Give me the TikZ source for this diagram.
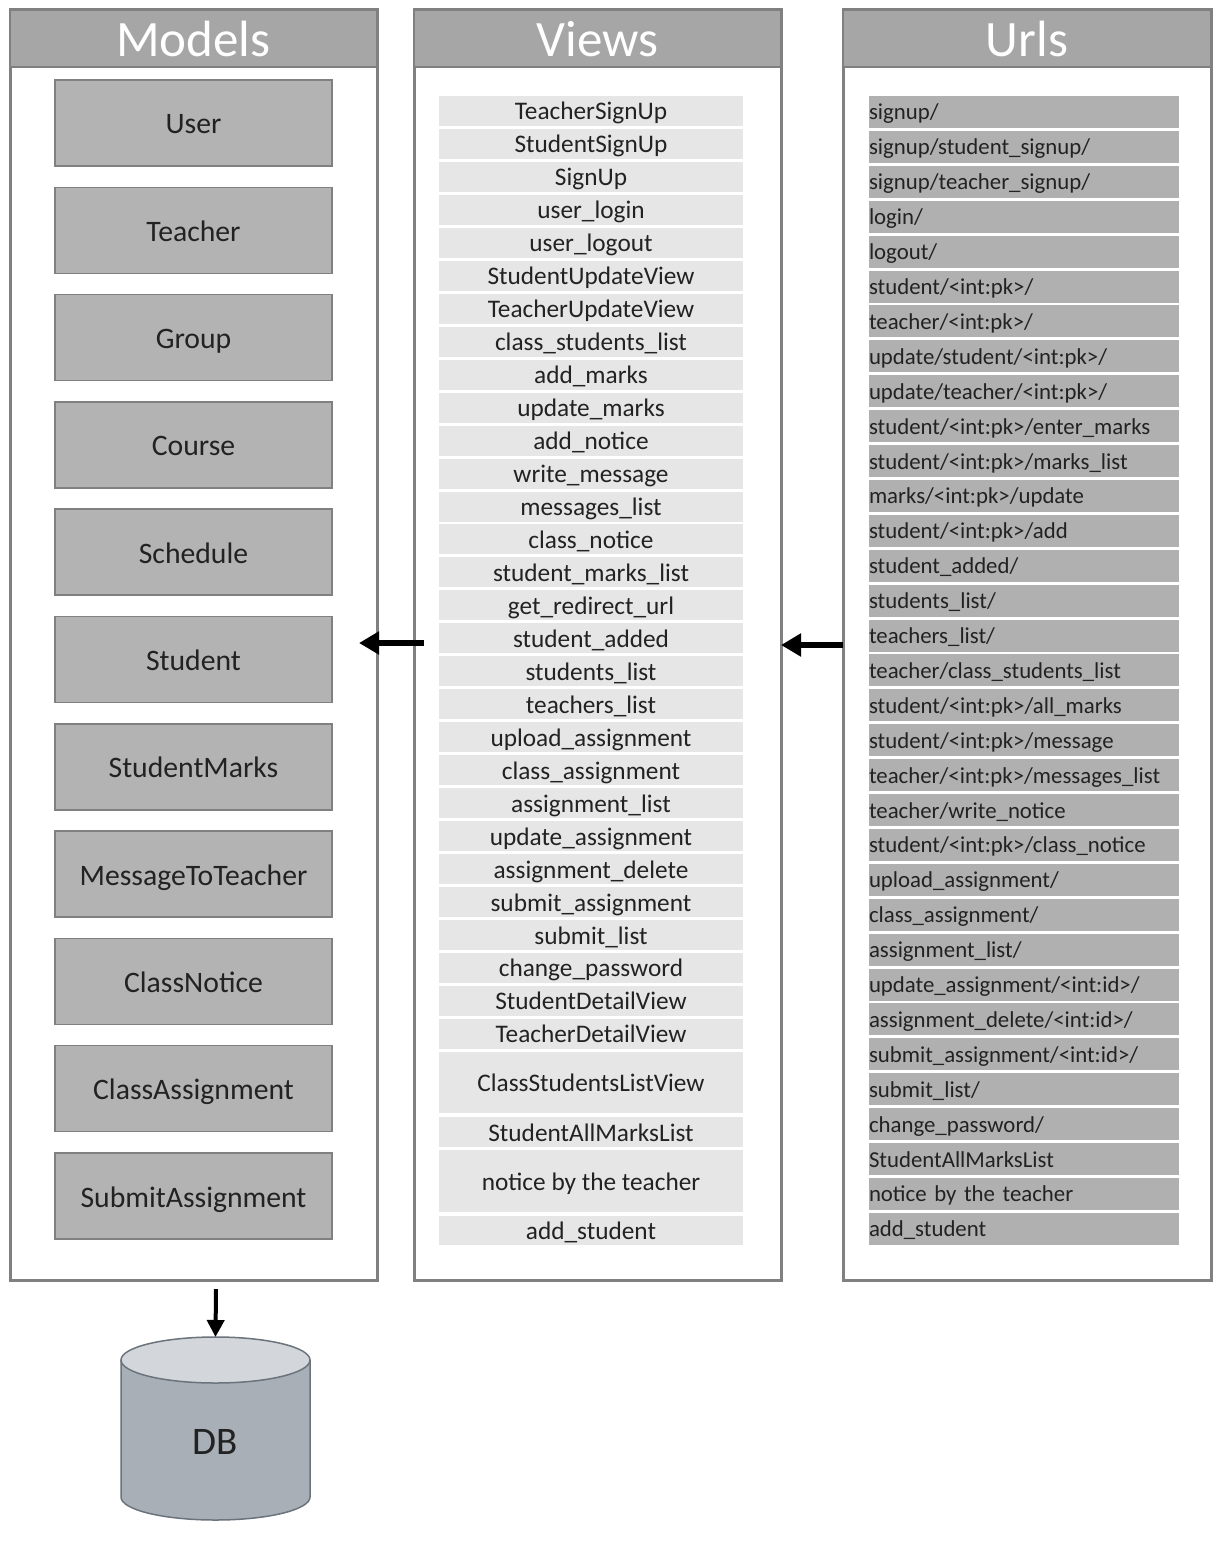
\documentclass[tikz,border=0pt]{standalone}
\usepackage{fontspec}
\setmainfont{Carlito}
\usetikzlibrary{arrows.meta}
\definecolor{hdr}{HTML}{A6A6A6}
\definecolor{frm}{HTML}{808080}
\definecolor{mbox}{HTML}{B3B3B3}
\definecolor{vrow}{HTML}{E6E6E6}
\definecolor{urow}{HTML}{B0B0B0}
\definecolor{txt}{HTML}{222222}
\definecolor{dbside}{HTML}{A8AFB7}
\definecolor{dbtop}{HTML}{D3D7DB}
\definecolor{dbline}{HTML}{6B737C}
\begin{document}
\begin{tikzpicture}[x=1pt,y=-1pt,
  panel/.style={draw=frm,line width=3pt,fill=white},
  header/.style={draw=frm,line width=2pt,fill=hdr},
  htext/.style={text height=37pt,text depth=0pt,text=white,font=\fontsize{51}{51}\selectfont},
  modelbox/.style={text height=22pt,text depth=0pt,draw=frm,line width=1.5pt,fill=mbox,minimum width=277pt,minimum height=86pt,text=txt,font=\fontsize{29.7}{29.7}\selectfont,inner sep=0pt},
  viewrow/.style={text height=18pt,text depth=0pt,fill=vrow,minimum width=304pt,minimum height=30pt,text=txt,font=\fontsize{25.3}{25.3}\selectfont,inner sep=0pt},
  urlrow/.style={text height=16pt,text depth=0pt,fill=urow,minimum width=310pt,minimum height=32pt,text=txt,font=\fontsize{22.8}{22.8}\selectfont,inner sep=0pt,text width=310pt,align=left},
  bigarrow/.style={line width=6pt,-{Triangle[length=20pt,width=22pt]}}
]
\useasboundingbox (0,0) rectangle (1216,1544);
\fill[white] (0,0) rectangle (1216,1544);

% panels
\draw[panel] (10,10) rectangle (377,1280);
\draw[header] (10,10) rectangle (377,67);
\node[htext] (hm) at (193.5,38.5) {Models};
\draw[panel] (414,10) rectangle (781,1280);
\draw[header] (414,10) rectangle (781,67);
\node[htext] (hv) at (597.5,38.5) {Views};
\draw[panel] (843,10) rectangle (1211,1280);
\draw[header] (843,10) rectangle (1211,67);
\node[htext] (hu) at (1027,38.5) {Urls};

% models
\foreach \t [count=\i] in {User,Teacher,Group,Course,Schedule,Student,StudentMarks,MessageToTeacher,ClassNotice,ClassAssignment,SubmitAssignment}{
  \node[modelbox] (m\i) at (193.5,{123+(\i-1)*107.3}) {\t};
}

% views
\foreach \t [count=\i] in {TeacherSignUp,StudentSignUp,SignUp,user\_login,user\_logout,StudentUpdateView,TeacherUpdateView,class\_students\_list,add\_marks,update\_marks,add\_notice,write\_message,messages\_list,class\_notice,student\_marks\_list,get\_redirect\_url,student\_added,students\_list,teachers\_list,upload\_assignment,class\_assignment,assignment\_list,update\_assignment,assignment\_delete,submit\_assignment,submit\_list,change\_password,StudentDetailView,TeacherDetailView}{
  \node[viewrow] (v\i) at (591,{111+(\i-1)*32.96}) {\t};
}
\node[viewrow,minimum height=61pt] (v30) at (591,1082.5) {ClassStudentsListView};
\node[viewrow] (v31) at (591,1132) {StudentAllMarksList};
\node[viewrow,minimum height=62pt] (v32) at (591,1181) {notice by the teacher};
\node[viewrow,minimum height=29pt] (v33) at (591,1230.5) {add\_student};

% urls
\foreach \t [count=\i] in {signup/,signup/student\_signup/,signup/teacher\_signup/,login/,logout/,student/<int:pk>/,teacher/<int:pk>/,update/student/<int:pk>/,update/teacher/<int:pk>/,student/<int:pk>/enter\_marks,student/<int:pk>/marks\_list,marks/<int:pk>/update,student/<int:pk>/add,student\_added/,students\_list/,teachers\_list/,teacher/class\_students\_list,student/<int:pk>/all\_marks,student/<int:pk>/message,teacher/<int:pk>/messages\_list,teacher/write\_notice,student/<int:pk>/class\_notice,upload\_assignment/,class\_assignment/,assignment\_list/,update\_assignment/<int:id>/,assignment\_delete/<int:id>/,submit\_assignment/<int:id>/,submit\_list/,change\_password/,StudentAllMarksList,notice by the teacher,add\_student}{
  \node[urlrow] (u\i) at (1024,{112+(\i-1)*34.9}) {\t};
}

% DB cylinder
\path[fill=dbside,draw=dbline,line width=1.5pt] (121,1360) -- (121,1497)
  arc[start angle=180,end angle=0,x radius=94.5,y radius=23] -- (310,1360);
\draw[fill=dbtop,draw=dbline,line width=1.5pt] (215.5,1360) ellipse[x radius=94.5,y radius=23];
\node[text height=28pt,text depth=0pt,text=txt,font=\fontsize{39}{39}\selectfont] (db) at (215.5,1440) {DB};
\coordinate (dbt) at (215.5,1337);

% arrows
\coordinate (va) at (424,643);
\coordinate (ma) at (359,643);
\coordinate (ua) at (843,645);
\coordinate (vb) at (781,645);
\coordinate (ms) at (216,1289);
\draw[bigarrow] (va) -- (ma);
\draw[bigarrow] (ua) -- (vb);
\draw[line width=4pt,-{Triangle[length=17pt,width=17pt]}] (ms) -- (dbt);
\end{tikzpicture}
\end{document}
